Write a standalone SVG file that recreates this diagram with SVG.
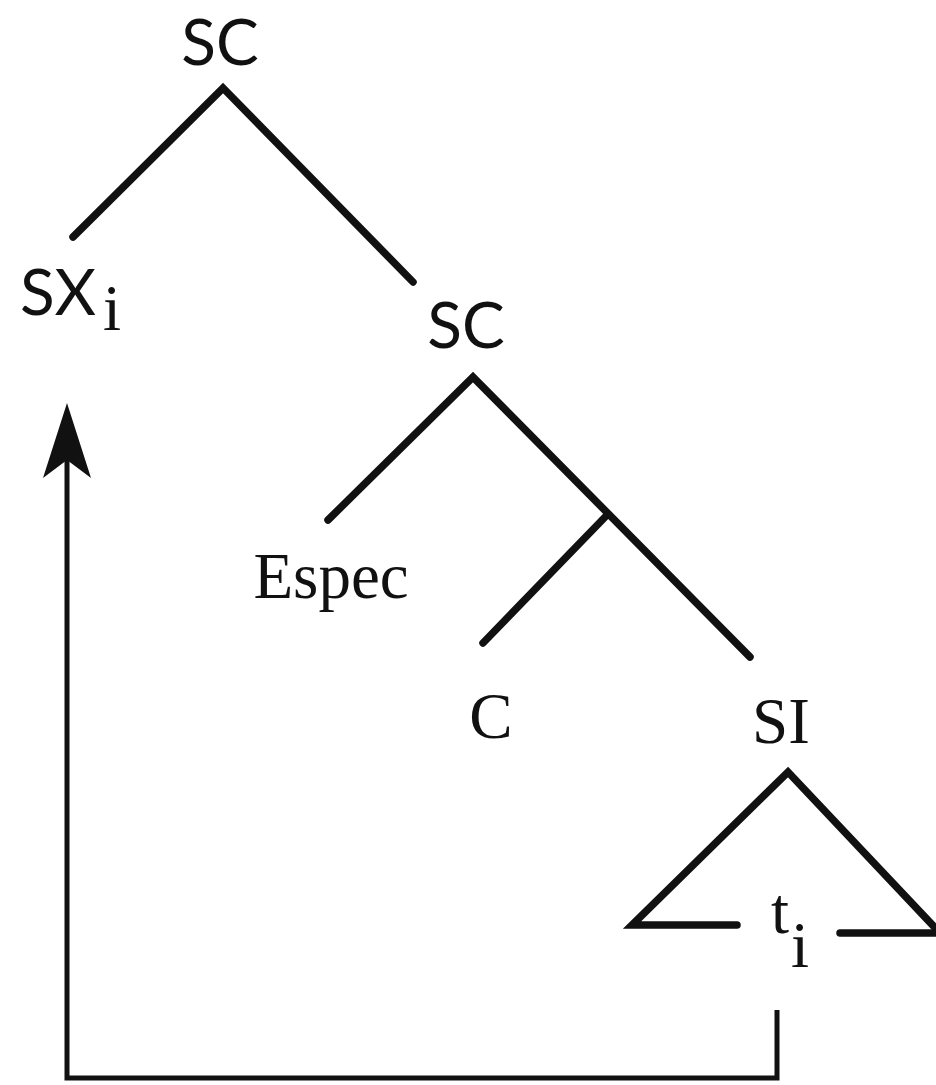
<svg xmlns="http://www.w3.org/2000/svg" width="936" height="1085" viewBox="0 0 936 1085">
  <style>
    .bg { fill: #ffffff; }
    .sans { font-family: "Lato", "Open Sans", "Liberation Sans", sans-serif; font-size: 64px; fill: #111; }
    .serif { font-family: "Liberation Serif", "DejaVu Serif", serif; font-size: 65px; fill: #111; }
    .edge { fill: none; stroke: #111; stroke-width: 7.5; stroke-linecap: round; stroke-linejoin: miter; }
    .move { fill: none; stroke: #111; stroke-width: 5; stroke-linejoin: miter; }
  </style>
  <defs>
    <marker id="arrowhead" markerUnits="userSpaceOnUse" viewBox="-80 -30 90 60" markerWidth="90" markerHeight="60" refX="-57" refY="0" orient="auto">
      <polygon points="0,0 -75,-24 -57,0 -75,24" fill="#111"/>
    </marker>
  </defs>
  <rect class="bg" x="0" y="0" width="936" height="1085"/>

  <g id="connectors">
    <polyline class="edge" points="73,237 223,88 413,282"/>
    <polyline class="edge" points="328,520 473,377 750,657"/>
    <line class="edge" x1="608" y1="514" x2="483" y2="643"/>
    <polyline class="edge" points="737,925 632,925 788,772 940,933"/>
    <line class="edge" x1="840" y1="933" x2="940" y2="933"/>
    <path class="move" d="M777,1010 V1078 H67 V460" marker-end="url(#arrowhead)"/>
  </g>

  <g id="node-SC-top">
    <text class="sans" x="220" y="65" text-anchor="middle">SC</text>
  </g>
  <g id="node-SXi">
    <text class="sans" x="20" y="315">SX<tspan class="serif" x="103" y="330" font-size="58">i</tspan></text>
  </g>
  <g id="node-SC-mid">
    <text class="sans" x="466" y="348" text-anchor="middle">SC</text>
  </g>
  <g id="node-Espec">
    <text class="serif" x="331" y="598" text-anchor="middle">Espec</text>
  </g>
  <g id="node-C">
    <text class="serif" x="491" y="738" text-anchor="middle">C</text>
  </g>
  <g id="node-SI">
    <text class="serif" x="781" y="743" text-anchor="middle">SI</text>
  </g>
  <g id="node-ti">
    <text class="serif" x="771" y="933" font-size="58">t<tspan x="791" y="967">i</tspan></text>
  </g>
</svg>
